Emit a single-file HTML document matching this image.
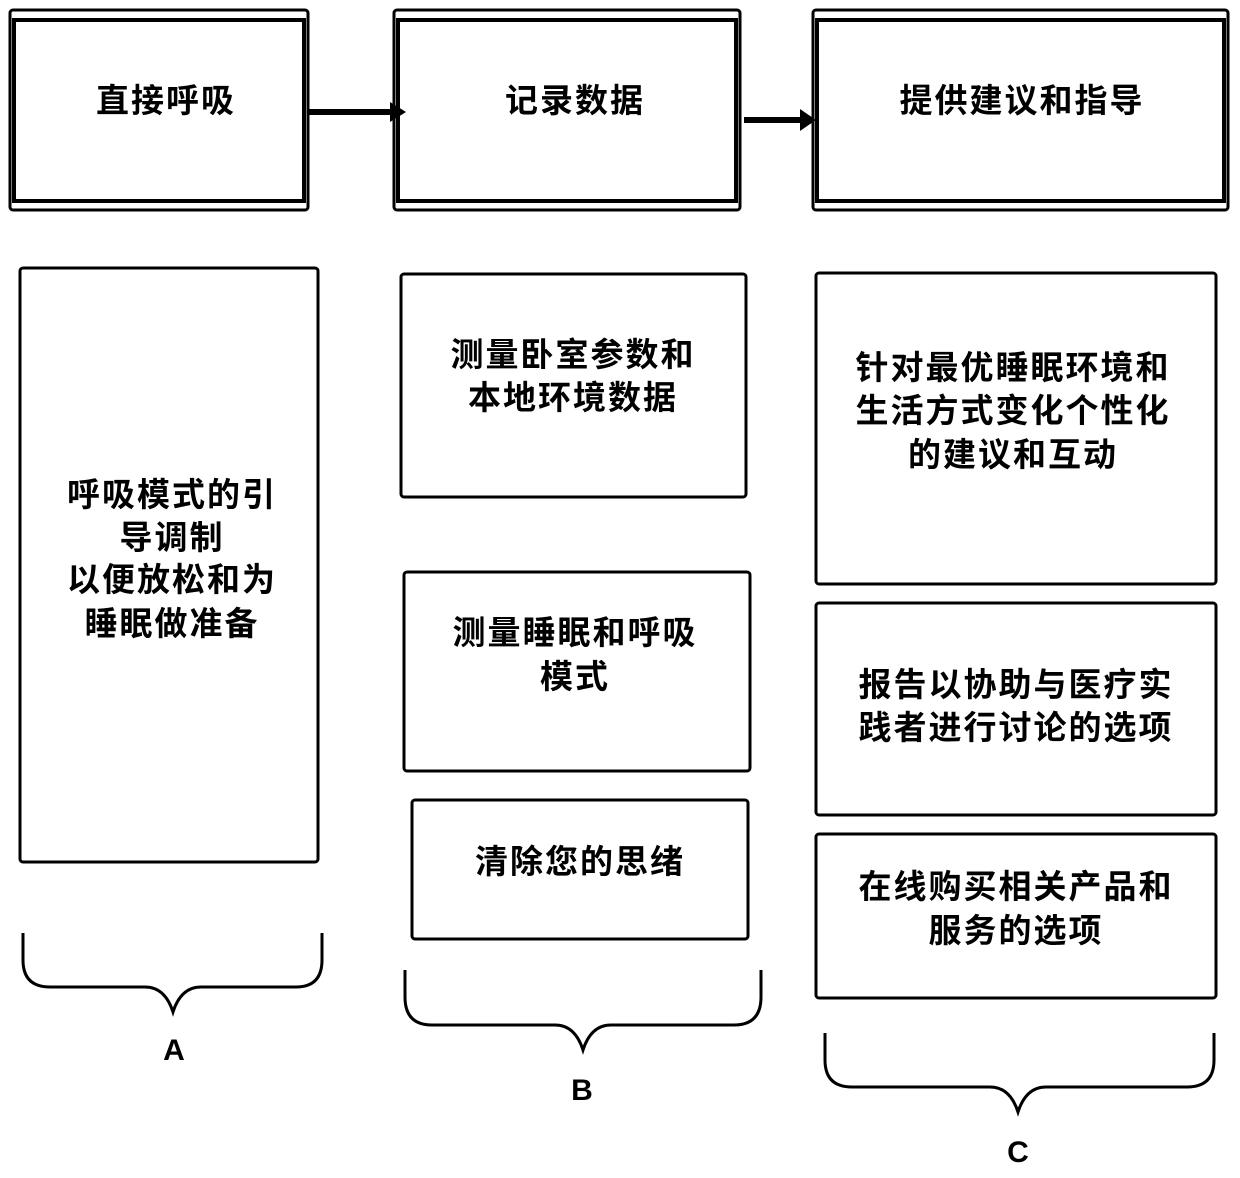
<!DOCTYPE html>
<html><head><meta charset="utf-8"><style>
html,body{margin:0;padding:0;background:#fff;}
svg text{font-family:"Liberation Sans","Noto Sans CJK SC",sans-serif;font-weight:700;fill:#000;}
</style></head><body>
<svg width="1240" height="1173" viewBox="0 0 1240 1173" xmlns="http://www.w3.org/2000/svg">
<g fill="none" stroke="#000">
<!-- top boxes: outer frame + inner thick rect -->
<rect x="10" y="10" width="298" height="200" rx="3" stroke-width="3"/>
<rect x="14" y="20" width="290" height="181" stroke-width="4"/>
<rect x="394" y="10" width="346" height="200" rx="3" stroke-width="3"/>
<rect x="398" y="20" width="338" height="181" stroke-width="4"/>
<rect x="813" y="10" width="415" height="200" rx="3" stroke-width="3"/>
<rect x="817" y="20" width="407" height="181" stroke-width="4"/>
<!-- lower boxes -->
<rect x="20" y="268" width="298" height="594" rx="3" stroke-width="3"/>
<rect x="401" y="274" width="345" height="223" rx="3" stroke-width="3"/>
<rect x="404" y="572" width="346" height="199" rx="3" stroke-width="3"/>
<rect x="412" y="800" width="336" height="139" rx="3" stroke-width="3"/>
<rect x="816" y="273" width="400" height="311" rx="3" stroke-width="3"/>
<rect x="816" y="603" width="400" height="212" rx="3" stroke-width="3"/>
<rect x="816" y="834" width="400" height="164" rx="3" stroke-width="3"/>
<!-- arrows -->
<line x1="308" y1="112" x2="392" y2="112" stroke-width="6"/>
<line x1="744" y1="120" x2="806" y2="120" stroke-width="6"/>
<!-- braces -->
<path d="M23 933 V960 Q23 987 50 987 H145 Q165 987 173 1012 Q181 987 201 987 H296 Q322 987 322 960 V933" stroke-width="3"/>
<path d="M405 970 V997 Q405 1025 432 1025 H555 Q575 1025 583 1050 Q591 1025 611 1025 H734 Q761 1025 761 997 V970" stroke-width="3"/>
<path d="M825 1033 V1060 Q825 1087 852 1087 H990 Q1010 1087 1018 1112 Q1026 1087 1046 1087 H1187 Q1214 1087 1214 1060 V1033" stroke-width="3"/>
</g>
<polygon points="390,102 406,112 390,122" fill="#000"/>
<polygon points="800,109 816,120 800,131" fill="#000"/>
<g font-size="33" text-anchor="middle" letter-spacing="2">
<text x="166" y="112">直接呼吸</text>
<text x="575" y="112">记录数据</text>
<text x="1022" y="112">提供建议和指导</text>
<text x="172" y="506">呼吸模式的引</text>
<text x="172" y="549">导调制</text>
<text x="172" y="591">以便放松和为</text>
<text x="172" y="635">睡眠做准备</text>
<text x="573" y="366">测量卧室参数和</text>
<text x="573" y="409">本地环境数据</text>
<text x="575" y="644">测量睡眠和呼吸</text>
<text x="575" y="688">模式</text>
<text x="580" y="873">清除您的思绪</text>
<text x="1013" y="379">针对最优睡眠环境和</text>
<text x="1013" y="422">生活方式变化个性化</text>
<text x="1013" y="466">的建议和互动</text>
<text x="1016" y="696">报告以协助与医疗实</text>
<text x="1016" y="739">践者进行讨论的选项</text>
<text x="1016" y="898">在线购买相关产品和</text>
<text x="1016" y="942">服务的选项</text>
</g>
<g font-size="30" text-anchor="middle">
<text x="174" y="1060">A</text>
<text x="582" y="1100">B</text>
<text x="1018" y="1162">C</text>
</g>
</svg>
</body></html>
